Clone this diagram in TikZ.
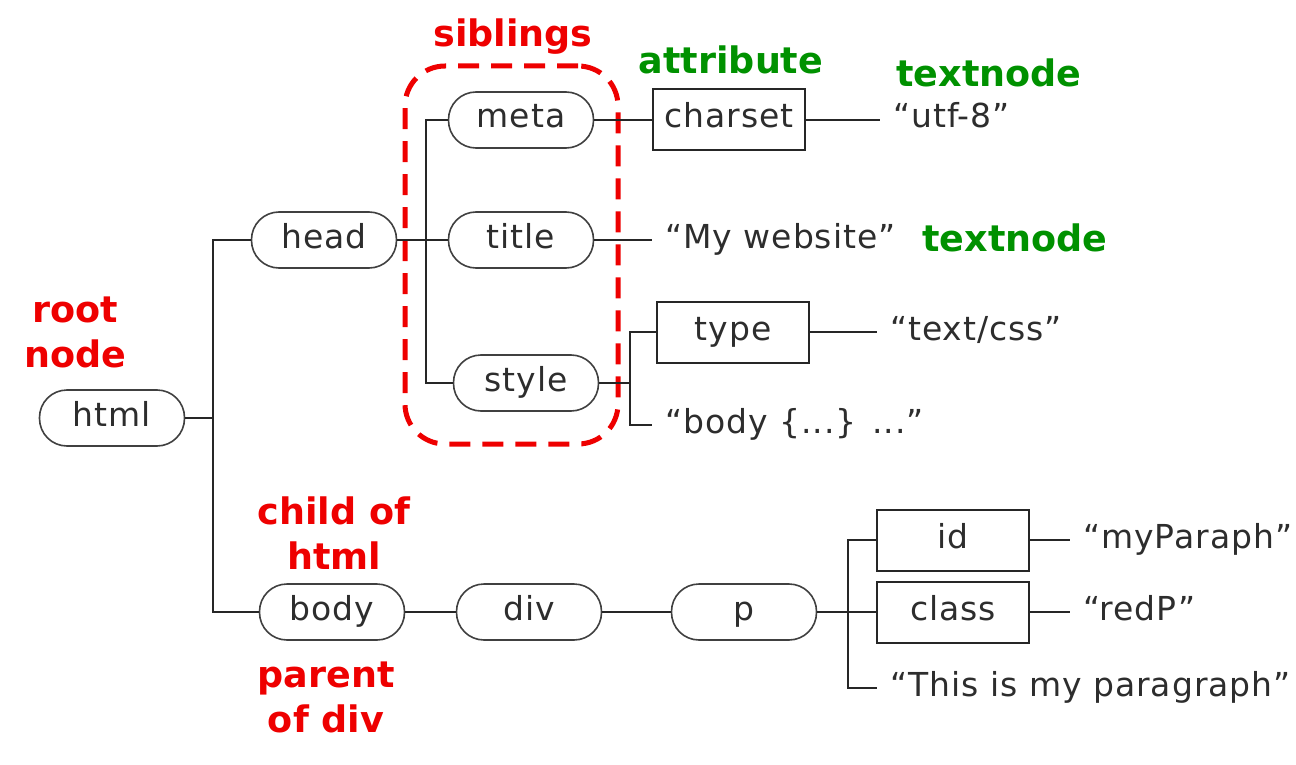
\documentclass[tikz,border=0pt]{standalone}
\usepackage{fontspec}
\setmainfont{DejaVu Sans}
\newfontfamily\nodefam[LetterSpace=3]{DejaVu Sans}
\definecolor{txt}{RGB}{45,45,45}
\definecolor{lred}{RGB}{238,0,0}
\definecolor{lgreen}{RGB}{0,145,0}
\begin{document}
\begin{tikzpicture}[x=1pt,y=-1pt,
  nodefont/.style={font=\nodefam\fontsize{33}{40}\selectfont, text=txt, text height=24pt, text depth=8pt},
  pill/.style={nodefont, draw=black!75, line width=1.6pt, rounded corners=27.5pt,
    minimum width=145pt, minimum height=56pt, inner sep=0pt},
  attr/.style={nodefont, draw=black!85, line width=2pt, minimum width=152pt,
    minimum height=61pt, inner sep=0pt},
  val/.style={nodefont, anchor=west, inner xsep=13pt, inner ysep=0pt},
  conn/.style={line width=2pt, black!85},
  redlbl/.style={font=\fontsize{36.5}{45}\selectfont\bfseries, text=lred, align=center},
  greenlbl/.style={font=\fontsize{36.5}{45}\selectfont\bfseries, text=lgreen, align=center}]
\useasboundingbox (0,0) rectangle (1296,765);

% sibling group
\node[draw=lred, line width=5pt, dash pattern=on 21pt off 12pt, rounded corners=40pt,
  minimum width=213pt, minimum height=378pt] (sib) at (511.5,255) {};

% element nodes
\node[pill] (html) at (112,418) {html};
\node[pill] (head) at (324,240) {head};
\node[pill] (meta) at (521,120) {meta};
\node[pill] (title) at (521,240) {title};
\node[pill] (style) at (526,383) {style};
\node[pill] (body) at (332,612) {body};
\node[pill] (div) at (529,612) {div};
\node[pill] (p) at (744,612) {p};

% attribute nodes
\node[attr] (charset) at (729,120) {charset};
\node[attr] (type) at (733,332) {type};
\node[attr] (id) at (953,540) {id};
\node[attr] (class) at (953,612) {class};

% text nodes
\node[val] (utf) at (880,120) {“utf-8”};
\node[val] (web) at (652,240) {“My website”};
\node[val] (css) at (877,332) {“text/css”};
\node[val] (bodytxt) at (652,425) {“body \{...\} ...”};
\node[val] (myp) at (1070,540) {“myParaph”};
\node[val] (redp) at (1070,612) {“redP”};
\node[val] (para) at (877,688) {“This is my paragraph”};

% branch points
\coordinate (t1) at (213,418);
\coordinate (t2) at (426,240);
\coordinate (t3) at (630,383);
\coordinate (t4) at (848,612);

% connectors
\draw[conn] (html.east) -- (t1);
\draw[conn] (head.west) -| (t1) |- (body.west);
\draw[conn] (head.east) -- (title.west);
\draw[conn] (meta.west) -| (t2) |- (style.west);
\draw[conn] (meta.east) -- (charset.west);
\draw[conn] (charset.east) -- (utf.west);
\draw[conn] (title.east) -- (web.west);
\draw[conn] (style.east) -- (t3);
\draw[conn] (type.west) -| (t3) |- (bodytxt.west);
\draw[conn] (type.east) -- (css.west);
\draw[conn] (body.east) -- (div.west);
\draw[conn] (div.east) -- (p.west);
\draw[conn] (p.east) -- (t4);
\draw[conn] (id.west) -| (t4) |- (para.west);
\draw[conn] (t4) -- (class.west);
\draw[conn] (id.east) -- (myp.west);
\draw[conn] (class.east) -- (redp.west);

% labels
\node[redlbl] (lsib) at (513,37) {siblings};
\node[greenlbl] (lattr) at (731,60) {attribute};
\node[greenlbl] (ltn1) at (989,73) {textnode};
\node[greenlbl] (ltn2) at (1015,238) {textnode};
\node[redlbl] (lroot) at (75,332) {root\\node};
\node[redlbl] (lchild) at (334,533) {child of\\html};
\node[redlbl] (lparent) at (326,697) {parent\\of div};
\end{tikzpicture}
\end{document}
